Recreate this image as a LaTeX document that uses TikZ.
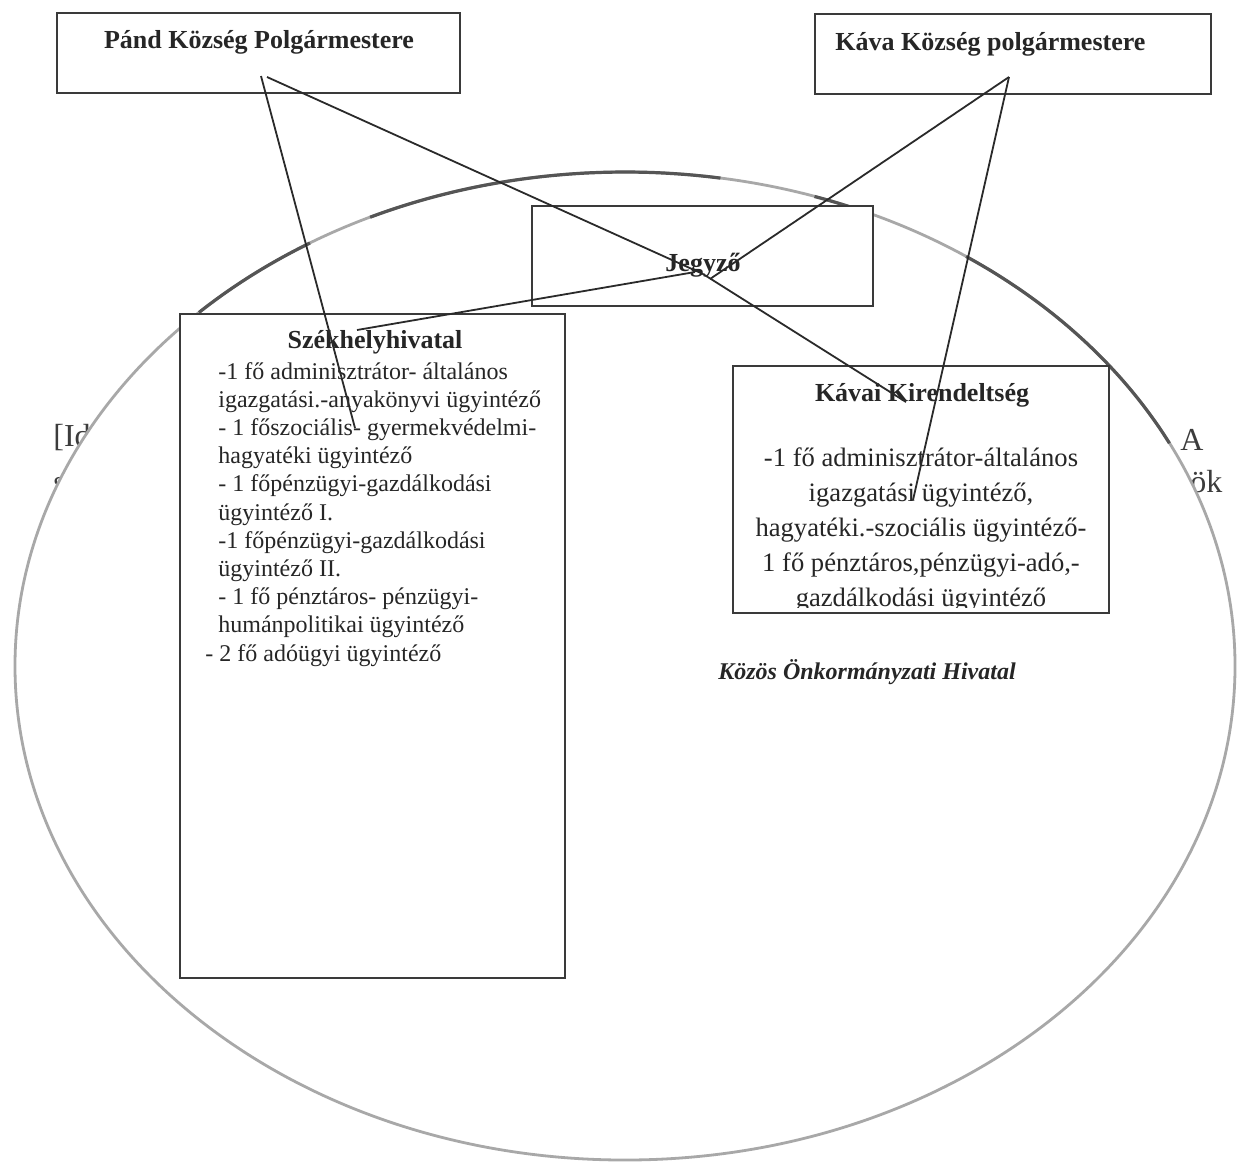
\documentclass[tikz,border=0pt]{standalone}
\usepackage{fontspec}
\setmainfont{Liberation Serif}
\definecolor{boxc}{HTML}{3A3A3A}
\definecolor{linec}{HTML}{2A2A2A}
\definecolor{txtc}{HTML}{262626}
\definecolor{fragc}{HTML}{3C3C3C}
\definecolor{ellc}{HTML}{A8A8A8}
\definecolor{elldark}{HTML}{555555}
\begin{document}
\begin{tikzpicture}[x=0.5pt,y=-0.5pt,
  box/.style={draw=boxc, line width=0.8pt, fill=white, inner sep=0pt, rectangle},
  conn/.style={draw=linec, line width=0.9pt},
  ttl/.style={font=\fontsize{13}{15}\selectfont\bfseries, text=txtc, inner sep=0pt},
  itm/.style={font=\fontsize{12}{14}\selectfont, text=txtc, inner sep=0pt, anchor=base west},
  kitm/.style={font=\fontsize{13.3}{16}\selectfont, text=txtc, inner sep=0pt, anchor=base},
  frag/.style={font=\fontsize{16}{20}\selectfont, text=fragc, inner sep=0pt, anchor=base west},
  lbl/.style={font=\fontsize{12}{14}\selectfont\bfseries\itshape, text=txtc, inner sep=0pt, anchor=base}]
\useasboundingbox (0,0) rectangle (1245,1164);
\fill[white] (0,0) rectangle (1245,1164);

% text fragments lying behind the ellipse
\node[frag] (fragA) at (53,446) {[Id};
\node[frag] (fragB) at (53,492) {s};
\node[frag] (fragC) at (1180,450) {A};
\node[frag] (fragD) at (1190,492) {ök};

% the ellipse of the office
\draw[ellc, line width=1.4pt, fill=white] (625,666) ellipse [x radius=610, y radius=494];
\foreach \a/\b in {134.3/121.1, 114.7/81, 71.9/67.9, 56/26.8}
  \draw[elldark, line width=1.6pt] plot[domain=\a:\b, samples=40, smooth]
    ({625+610*cos(\x)},{666-494*sin(\x)});
\node[lbl] (hivatal) at (867,679) {Közös Önkormányzati Hivatal};

% boxes
\node[box, minimum width=201.5pt, minimum height=40pt] (pand) at (258.5,53) {};
\node[box, minimum width=198pt, minimum height=40pt] (kava) at (1013,54) {};
\node[box, minimum width=170.5pt, minimum height=50pt] (jegyzo) at (702.5,256) {};
\node[box, minimum width=192.5pt, minimum height=332pt] (szek) at (372.5,646) {};
\node[box, minimum width=188pt, minimum height=123.5pt] (kavai) at (921,489.5) {};

% titles
\node[ttl, anchor=base] (pandT) at (259,48) {Pánd Község Polgármestere};
\node[ttl, anchor=base west] (kavaT) at (835,50) {Káva Község polgármestere};
\node[ttl, anchor=base] (jegyzoT) at (703,271) {Jegyző};
\node[ttl, anchor=base] (szekT) at (375,348) {Székhelyhivatal};
\node[ttl, anchor=base] (kavaiT) at (922,401) {Kávai Kirendeltség};

% Székhelyhivatal staff
\foreach \t [count=\i] in {
  {-1 fő adminisztrátor- általános},
  {igazgatási.-anyakönyvi ügyintéző},
  {- 1 főszociális- gyermekvédelmi-},
  {hagyatéki ügyintéző},
  {- 1 főpénzügyi-gazdálkodási},
  {ügyintéző I.},
  {-1 főpénzügyi-gazdálkodási},
  {ügyintéző II.},
  {- 1 fő pénztáros- pénzügyi-},
  {humánpolitikai ügyintéző}}
  \node[itm] (sz\i) at (218,{379+(\i-1)*28.2}) {\t};
\node[itm] (sz11) at (205,661) {- 2 fő adóügyi ügyintéző};

% Kávai Kirendeltség staff (last line cut by the frame)
\begin{scope}
\clip (733,366) rectangle (1109,607);
\foreach \t [count=\i] in {
  {-1 fő adminisztrátor-általános},
  {igazgatási ügyintéző,},
  {hagyatéki.-szociális ügyintéző-},
  {1 fő pénztáros,pénzügyi-adó,-},
  {gazdálkodási ügyintéző}}
  \node[kitm] (ka\i) at (921,{466+(\i-1)*35}) {\t};
\end{scope}

% connector end points
\coordinate (pandL) at (261,76);
\coordinate (pandR) at (267,77);
\coordinate (kavaB) at (1009,77);
\coordinate (szekTop) at (357,330);
\coordinate (szekIn) at (355,428);
\coordinate (kavaiTop) at (906,402);
\coordinate (kavaiIn) at (913,500);
\coordinate (jegyP) at (703,274);
\coordinate (jegyK) at (710,279);
\coordinate (jegyS) at (695,272);

% connectors
\draw[conn] (pandL) -- (szekIn);
\draw[conn] (pandR) -- (jegyP);
\draw[conn] (jegyP) -- (kavaiTop);
\draw[conn] (kavaB) -- (jegyK);
\draw[conn] (jegyS) -- (szekTop);
\draw[conn] (kavaB) -- (kavaiIn);
\end{tikzpicture}
\end{document}
